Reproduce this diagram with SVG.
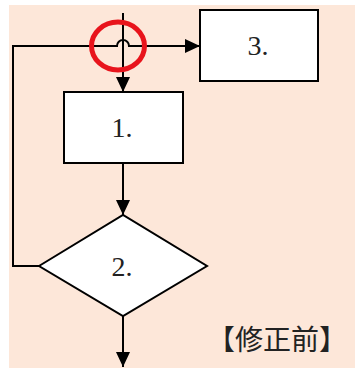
<svg xmlns="http://www.w3.org/2000/svg" width="355" height="368" viewBox="0 0 355 368">
<defs>
<style>
.ln{fill:none;stroke:#000;stroke-width:2}
.nd{fill:#fff;stroke:#000;stroke-width:2}
.lb{font-family:"Liberation Serif",serif;font-size:28px;fill:#222;text-anchor:middle}
</style>
<marker id="ah" markerWidth="15" markerHeight="14" refX="15" refY="7" orient="auto" markerUnits="userSpaceOnUse">
<path d="M0,0 L15,7 L0,14 Z" fill="#000"/>
</marker>
</defs>
<rect x="9" y="5" width="346" height="363" fill="#fde7d9"/>
<g id="connectors">
<path class="ln" d="M123,13 V92" marker-end="url(#ah)"/>
<path class="ln" d="M123,163 V215" marker-end="url(#ah)"/>
<path class="ln" d="M123,316 V367" marker-end="url(#ah)"/>
<path class="ln" d="M39,266 H13 V46 H117 A6,6 0 0 1 129,46 H200" marker-end="url(#ah)"/>
</g>
<g id="node1">
<rect class="nd" x="64" y="92" width="119" height="71"/>
<text class="lb" x="122" y="137">1.</text>
</g>
<g id="node2">
<polygon class="nd" points="39,266 123,215 207,266 123,316"/>
<text class="lb" x="122" y="276">2.</text>
</g>
<g id="node3">
<rect class="nd" x="200" y="10" width="118" height="71"/>
<text class="lb" x="258" y="55">3.</text>
</g>
<g id="highlight">
<ellipse cx="118" cy="46" rx="26.5" ry="24" fill="none" stroke="#e8141c" stroke-width="5"/>
</g>
<g id="caption">
<text x="277" y="350" style="font-family:'Noto Sans CJK JP',sans-serif;font-size:28px;fill:#222;text-anchor:middle">【修正前】</text>
</g>
</svg>
